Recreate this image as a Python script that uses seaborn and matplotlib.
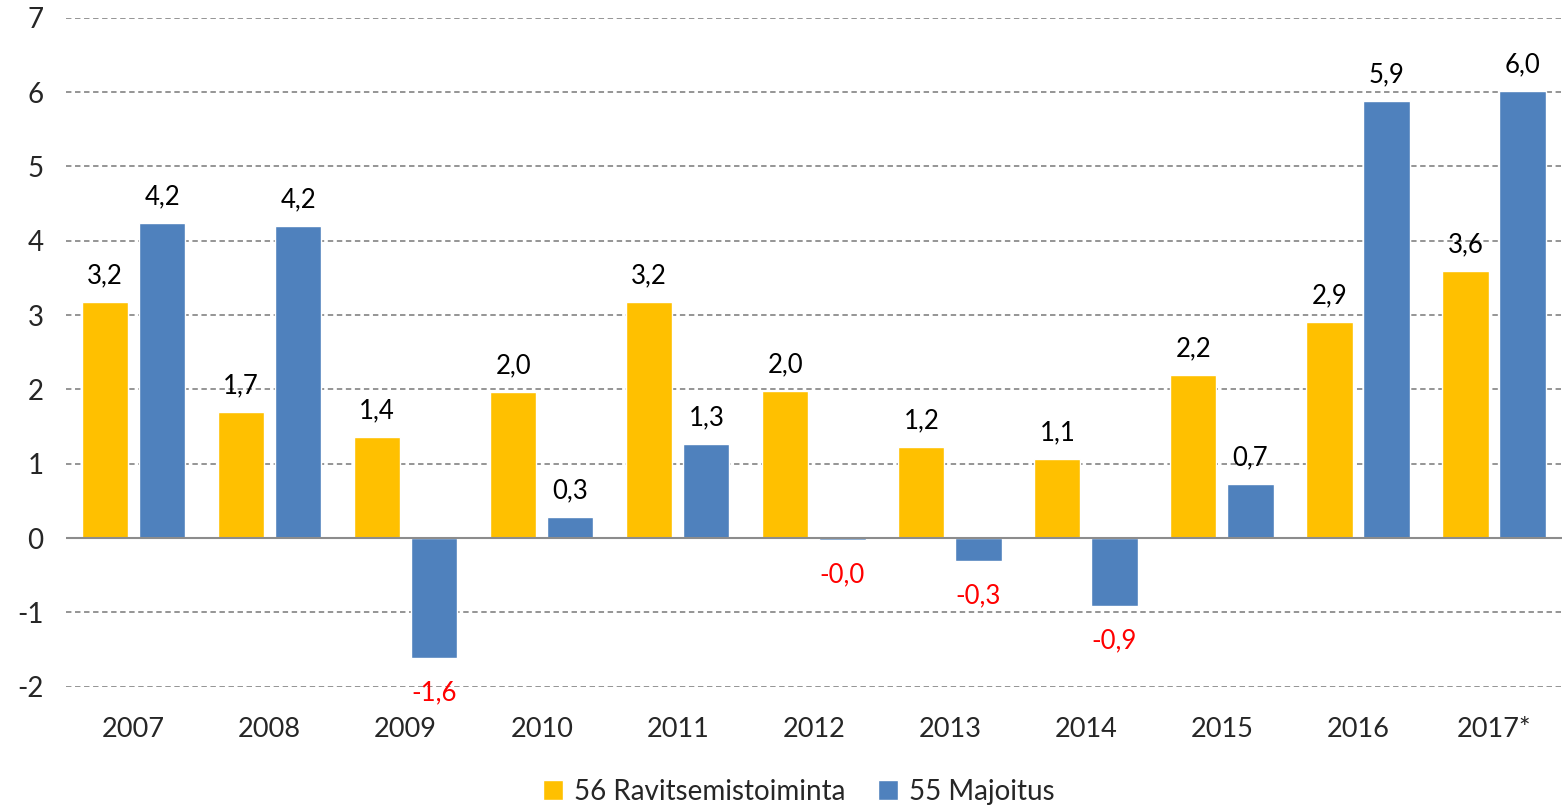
import matplotlib
matplotlib.use("Agg")
import matplotlib.pyplot as plt
import pandas as pd
import seaborn as sns

# ---------------- data ----------------
years = ["2007", "2008", "2009", "2010", "2011", "2012", "2013", "2014", "2015", "2016", "2017*"]
ravitsemis = [3.17, 1.70, 1.36, 1.96, 3.18, 1.98, 1.22, 1.06, 2.19, 2.91, 3.59]
majoitus = [4.24, 4.20, -1.61, 0.28, 1.26, -0.03, -0.31, -0.92, 0.73, 5.88, 6.01]
series_names = ["56 Ravitsemistoiminta", "55 Majoitus"]
colors = ["#FFC000", "#4F81BD"]

df = pd.DataFrame({
    "year": years * 2,
    "value": ravitsemis + majoitus,
    "series": [series_names[0]] * len(years) + [series_names[1]] * len(years),
})

# ---------------- plot ----------------
sns.set_theme(style="white")
plt.rcParams["font.family"] = ["Lato", "DejaVu Sans"]
plt.rcParams["axes.unicode_minus"] = False

fig = plt.figure(figsize=(15.62, 8.07), dpi=100)
ax = fig.add_axes([0.042, 0.149, 0.958, 0.829])

sns.barplot(data=df, x="year", y="value", hue="series", palette=colors,
            width=0.84, gap=0.19, saturation=1, ax=ax)

ax.set_ylim(-2, 7)
ax.set_xlim(-0.5, len(years) - 0.5)
ax.set_yticks(range(-2, 8))
for y in range(-2, 8):
    if y != 0:
        ax.axhline(y, color="#8C8C8C", lw=1.3, ls=(0, (3, 2)), zorder=0)
ax.axhline(0, color="#8C8C8C", lw=1.5, zorder=3)

for sp in ax.spines.values():
    sp.set_visible(False)
ax.set_xlabel("")
ax.set_ylabel("")
ax.tick_params(axis="y", labelsize=20, length=0, pad=16)
ax.tick_params(axis="x", labelsize=19.5, length=0, pad=22)

for cont in ax.containers:
    for bar in cont:
        v = bar.get_height()
        x = bar.get_x() + bar.get_width() / 2
        txt = f"{v:.1f}".replace(".", ",")
        if v >= 0:
            ax.annotate(txt, (x, v), xytext=(0, 10), textcoords="offset points",
                        ha="center", va="bottom", fontsize=18.5, color="black")
        else:
            ax.annotate(txt, (x, v), xytext=(0, -16), textcoords="offset points",
                        ha="center", va="top", fontsize=18.5, color="red")

ax.legend(loc="upper center", bbox_to_anchor=(0.49, -0.1), ncol=2, frameon=False,
          fontsize=20, handlelength=0.7, handleheight=0.7, columnspacing=1.2,
          handletextpad=0.4)

fig.savefig("out.png", dpi=100)
